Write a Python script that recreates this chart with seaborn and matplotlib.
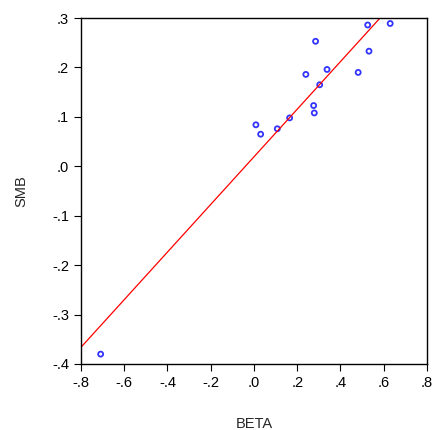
import numpy as np
import pandas as pd
import seaborn as sns
import matplotlib.pyplot as plt
from matplotlib.ticker import FuncFormatter

beta = [0.526, 0.630, 0.285, 0.532, 0.338, 0.240, 0.482, 0.304, 0.276, 0.279,
        0.165, 0.009, 0.108, 0.031, -0.709]
smb = [0.286, 0.289, 0.253, 0.233, 0.196, 0.186, 0.190, 0.165, 0.123, 0.108,
       0.098, 0.084, 0.076, 0.065, -0.380]
df = pd.DataFrame({"BETA": beta, "SMB": smb})

sns.set_style("white")
plt.rcParams["font.family"] = ["Liberation Sans", "DejaVu Sans"]

fig = plt.figure(figsize=(4.33, 4.30), dpi=100)
ax = fig.add_axes([0.187, 0.1535, 0.799, 0.8045])
ax.set_xlim(-0.8, 0.8)
ax.set_ylim(-0.4, 0.3)

sns.regplot(data=df, x="BETA", y="SMB", ax=ax, ci=None, truncate=False,
            scatter_kws=dict(s=13, facecolors="none", edgecolors="#0000ff", linewidths=1.3),
            line_kws=dict(color="#ff0000", lw=0.9))

ax.set_xlim(-0.8, 0.8)
ax.set_ylim(-0.4, 0.3)
ax.set_xticks(np.arange(-0.8, 0.81, 0.2))
ax.set_yticks(np.arange(-0.4, 0.31, 0.1))

def fmt(v, pos):
    s = "%.1f" % v
    if s == "-0.0":
        s = "0.0"
    return s.replace("0.", ".", 1)

ax.xaxis.set_major_formatter(FuncFormatter(fmt))
ax.yaxis.set_major_formatter(FuncFormatter(fmt))
ax.tick_params(axis="both", direction="out", length=5, width=0.8, colors="black",
               labelsize=10.5, bottom=True, left=True, top=False, right=False)
ax.tick_params(axis="x", pad=4)
for sp in ax.spines.values():
    sp.set_color("black")
    sp.set_linewidth(1.0)

ax.set_xlabel("BETA", fontsize=10.5, labelpad=19)
ax.set_ylabel("SMB", fontsize=10.5, labelpad=17)

fig.savefig("out.png", dpi=100)
